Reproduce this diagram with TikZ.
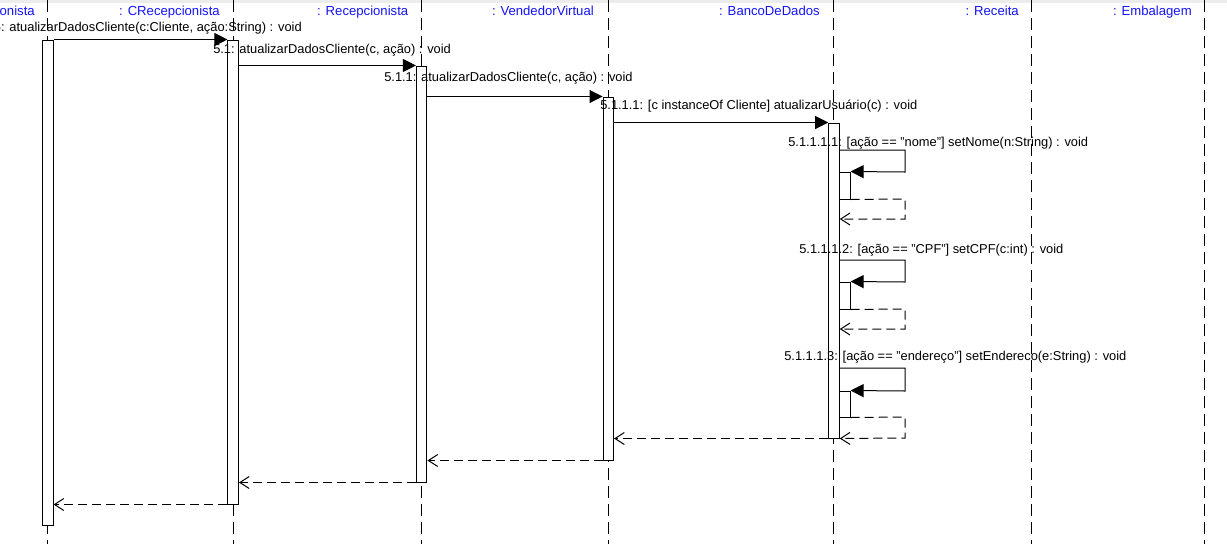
\documentclass[tikz,border=0pt]{standalone}
\usepackage{fontspec}
\setmainfont{Liberation Sans}
\usetikzlibrary{arrows.meta}
\definecolor{headblue}{RGB}{20,20,250}
\definecolor{topband}{RGB}{236,236,236}
\tikzset{
  lifeline/.style={line width=0.75pt, dash pattern=on 9pt off 4.5pt},
  actbar/.style={draw, fill=white, line width=0.75pt, inner sep=0pt, minimum width=7.9pt},
  call/.style={line width=0.75pt, -{Triangle[length=9.75pt,width=9.75pt]}},
  ret/.style={line width=0.75pt, dash pattern=on 6.75pt off 3.75pt, -{Straight Barb[length=7pt,width=9pt]}},
  head/.style={text=headblue, inner sep=0pt, anchor=base east, font=\fontsize{9.85pt}{12pt}\selectfont},
  msg/.style={inner sep=0pt, anchor=base west},
}
% activation bar: name, x, top, bottom (pixel units, y downwards)
\newcommand\activation[4]{%
  \node[actbar, minimum height={(#4-#3)*0.75pt}] (#1) at (#2,{(#3+#4)/2}) {};}
\begin{document}
\begin{tikzpicture}[x=0.75pt, y=-0.75pt, font=\fontsize{9.65pt}{12pt}\selectfont]
\useasboundingbox (0,0) rectangle (1227,544);
\clip (0,0) rectangle (1227,544);
\fill[topband] (0,0) rectangle (1227,3);

% object heads
\node[head] (h1) at (35,15) {: Recepcionista};
\node[head] (h2) at (220,15) {: CRecepcionista};
\node[head] (h3) at (408.5,15) {: Recepcionista};
\node[head] (h4) at (594,15) {: VendedorVirtual};
\node[head] (h5) at (820,15) {: BancoDeDados};
\node[head] (h6) at (1019,15) {: Receita};
\node[head] (h7) at (1192,15) {: Embalagem};

% lifelines
\foreach \lx in {47.8,233.2,421.7,608.3,833.8,1031,1204.3}
  \draw[lifeline] (\lx,0) -- (\lx,544);

% activation bars
\activation{b1}{47.8}{40}{525}
\activation{b2}{233.2}{40}{504}
\activation{b3}{421.7}{66}{482}
\activation{b4}{608.3}{97}{460}
\activation{b5}{834}{123}{438}

% nested activations of the self calls
\node[actbar, minimum width=8.1pt, minimum height=20.25pt] (s1) at (844.65,185.5) {};
\node[actbar, minimum width=8.1pt, minimum height=20.25pt] (s2) at (844.65,295.5) {};
\node[actbar, minimum width=8.1pt, minimum height=19.5pt] (s3) at (844.65,404) {};

% calls
\draw[call] (b1.north east) -- (b2.north west);
\node[msg, anchor=base east] (l1) at (302,31) {5: atualizarDadosCliente(c:Cliente, ação:String) : void};
\draw[call] (b2.east |- b3.north) -- (b3.north west);
\node[msg] (l2) at (213,53) {5.1: atualizarDadosCliente(c, ação) : void};
\draw[call] (b3.east |- b4.north) -- (b4.north west);
\node[msg] (l3) at (384,81) {5.1.1: atualizarDadosCliente(c, ação) : void};
\draw[call] (b4.east |- b5.north) -- (b5.north west);
\node[msg] (l4) at (600,109) {5.1.1.1: [c instanceOf Cliente] atualizarUsuário(c) : void};

% self calls on BancoDeDados
\node[msg] (l5) at (788,146) {5.1.1.1.1: [ação == "nome"] setNome(n:String) : void};
\draw[call] (b5.east |- 0,150) -- (905,150) -- (905,172) -- (s1.north east);
\draw[ret] (s1.south east) -- (905,199) -- (905,219) -- (b5.east |- 0,219);

\node[msg] (l6) at (799,253) {5.1.1.1.2: [ação == "CPF"] setCPF(c:int) : void};
\draw[call] (b5.east |- 0,260) -- (905,260) -- (905,282) -- (s2.north east);
\draw[ret] (s2.south east) -- (905,309) -- (905,329) -- (b5.east |- 0,329);

\node[msg] (l7) at (784,360) {5.1.1.1.3: [ação == "endereço"] setEndereco(e:String) : void};
\draw[call] (b5.east |- 0,368) -- (905,368) -- (905,391) -- (s3.north east);
\draw[ret] (s3.south east) -- (905,417) -- (905,438) -- (b5.south east);

% returns
\draw[ret] (b5.south west) -- (b4.east |- b5.south west);
\draw[ret] (b4.south west) -- (b3.east |- b4.south west);
\draw[ret] (b3.south west) -- (b2.east |- b3.south west);
\draw[ret] (b2.south west) -- (b1.east |- b2.south west);
\end{tikzpicture}
\end{document}
